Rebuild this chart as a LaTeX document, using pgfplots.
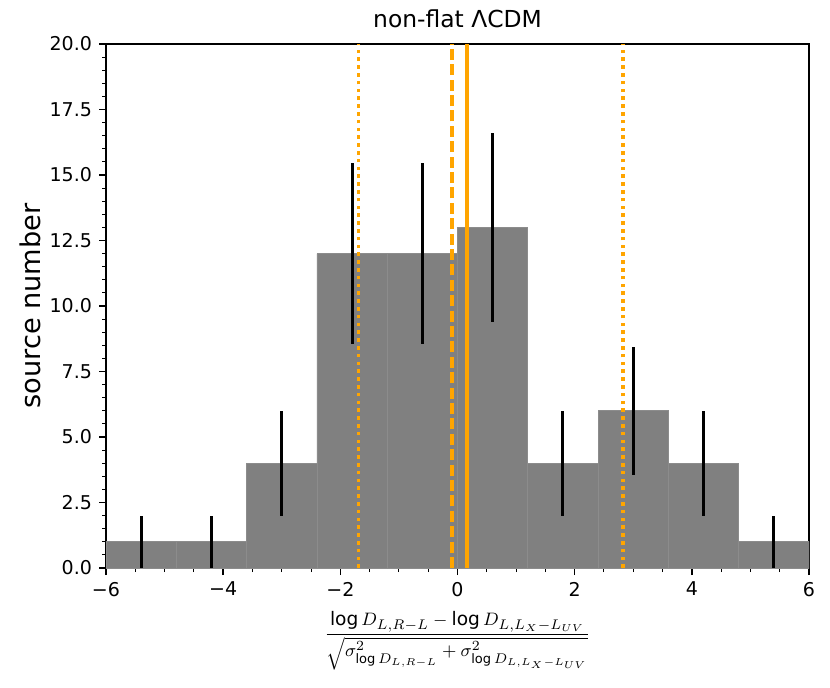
\documentclass[border=0pt]{standalone}
\usepackage{amsmath}
\usepackage{fontspec}
\setmainfont{DejaVu Sans}
\usepackage{pgfplots}
\pgfplotsset{compat=1.18}
\definecolor{bargray}{RGB}{128,128,128}
\definecolor{baredge}{RGB}{140,140,140}
\definecolor{myorange}{RGB}{255,165,0}
\begin{document}
\begin{tikzpicture}
\begin{axis}[
  scale only axis,
  width=351.5pt, height=262pt,
  xmin=-6, xmax=6, ymin=0, ymax=20,
  enlargelimits=false,
  axis line style={line width=0.7pt},
  tick align=outside,
  tick pos=left,
  major tick length=3.5pt,
  minor tick length=2pt,
  every tick/.style={black, line width=0.7pt},
  minor tick style={line width=0.5pt},
  xtick={-6,-4,-2,0,2,4,6},
  xticklabels={−6,−4,−2,0,2,4,6},
  minor x tick num=3,
  ytick={0,2.5,5,7.5,10,12.5,15,17.5,20},
  minor y tick num=4,
  /pgf/number format/assume math mode=true,
  yticklabel style={/pgf/number format/fixed, /pgf/number format/fixed zerofill, /pgf/number format/precision=1},
  tick label style={font=\fontsize{9.5pt}{11pt}\selectfont},
  title={non-flat ΛCDM},
  title style={font=\fontsize{11.7pt}{13pt}\selectfont, at={(axis description cs:0.5,1)}, anchor=base, inner sep=0pt, yshift=2.5pt},
  ylabel={source number},
  ylabel style={font=\fontsize{13.6pt}{15pt}\selectfont, at={(axis description cs:-0.108,0.5)}, anchor=center},
  xlabel={$\dfrac{\log D_{L,R-L}-\log D_{L,L_X-L_{UV}}}{\sqrt{\sigma^2_{\log D_{L,R-L}}+\sigma^2_{\log D_{L,L_X-L_{UV}}}}}$},
  xlabel style={font=\fontsize{9.3pt}{11pt}\selectfont, at={(axis description cs:0.5,-0.139)}, anchor=center},
]
\addplot[ybar interval, fill=bargray, draw=baredge, line width=0.4pt] coordinates {
  (-6.0,1) (-4.8,1) (-3.6,4) (-2.4,12) (-1.2,12) (0.0,13) (1.2,4) (2.4,6) (3.6,4) (4.8,1) (6.0,1)
};
\addplot[draw=none, mark=none, forget plot,
  error bars/.cd, y dir=both, y explicit, error mark=none,
  error bar style={line width=1.5pt, black}] coordinates {
  (-5.4,1) +- (0,1)
  (-4.2,1) +- (0,1)
  (-3.0,4) +- (0,2)
  (-1.8,12) +- (0,3.464)
  (-0.6,12) +- (0,3.464)
  (0.6,13) +- (0,3.606)
  (1.8,4) +- (0,2)
  (3.0,6) +- (0,2.449)
  (4.2,4) +- (0,2)
  (5.4,1) +- (0,1)
};
\addplot[myorange, line width=1.8pt] coordinates {(0.162,0) (0.162,20)};
\addplot[myorange, line width=1.8pt, dash pattern=on 5.5pt off 2.2pt] coordinates {(-0.094,0) (-0.094,20)};
\addplot[myorange, line width=1.8pt, dash pattern=on 1.8pt off 2.1pt] coordinates {(-1.687,0) (-1.687,20)};
\addplot[myorange, line width=1.8pt, dash pattern=on 1.8pt off 2.1pt] coordinates {(2.825,0) (2.825,20)};
\end{axis}
\path (current axis.south west) ++(-53pt,-59.5pt) coordinate (bl);
\path (current axis.north east) ++(10.5pt,22pt) coordinate (tr);
\path (bl) rectangle (tr);
\end{tikzpicture}
\end{document}
